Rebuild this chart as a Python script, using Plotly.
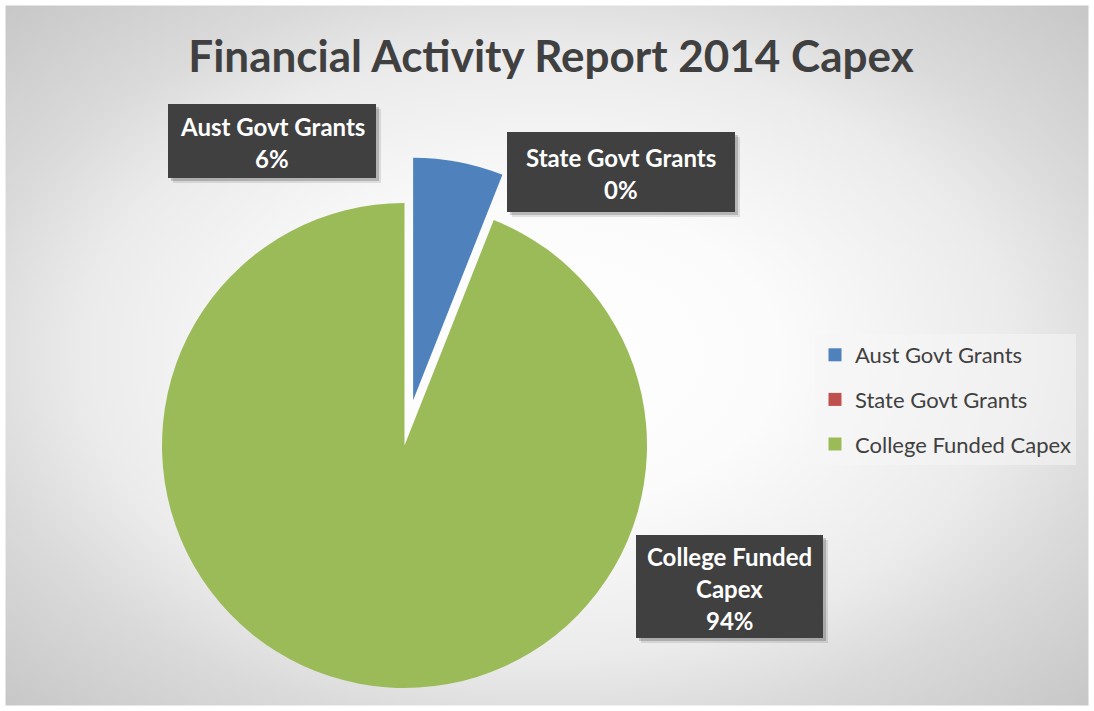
import math
import plotly.graph_objects as go

# ---------------- data ----------------
categories = ["Aust Govt Grants", "State Govt Grants", "College Funded Capex"]
values = [6, 0, 94]
colors = ["#4F81BD", "#C0504D", "#9BBB59"]
title_text = "Financial Activity Report 2014 Capex"
label_lines = [["Aust Govt Grants"], ["State Govt Grants"], ["College Funded", "Capex"]]

# ---------------- layout constants (px) ----------------
W, H = 1094, 711
FONT = "Lato"
TXT = "#404040"
cx, cy, r = 404.5, 445.5, 242.5      # pie centre / radius
pull = 0.19
pull_index = 0
# label boxes: x0, y0, x1, y1 and first-line centre y
boxes = [(168, 104, 376, 178, 126), (507, 132, 735, 212, 157), (636, 535, 823, 638, 556)]
line_pitch = 32

total = sum(values)
pcts = [f"{round(v / total * 100)}%" for v in values]


def dom(px, py):
    return dict(x=[(px - r) / W, (px + r) / W], y=[(H - py - r) / H, (H - py + r) / H])


mid = (sum(values[:pull_index]) + values[pull_index] / 2) / total * 2 * math.pi
bx = cx + pull * r * math.sin(mid)
by = cy - pull * r * math.cos(mid)

transparent = "rgba(0,0,0,0)"
colA = [transparent if i == pull_index else c for i, c in enumerate(colors)]
colB = [c if i == pull_index else transparent for i, c in enumerate(colors)]

fig = go.Figure()

# background radial gradient (ellipse reaching the corners)
gx, gy = W / 2, H / 2
hw, hh = gx * 1.414, gy * 1.414
fig.add_trace(go.Scatter(
    x=[gx - hw, gx + hw, gx + hw, gx - hw, gx - hw],
    y=[gy - hh, gy - hh, gy + hh, gy + hh, gy - hh],
    mode="lines", line=dict(width=0), fill="toself",
    fillgradient=dict(type="radial",
                      colorscale=[[0, "#ffffff"], [0.3, "#fbfbfb"], [0.6, "#ebebeb"],
                                  [0.75, "#dadada"], [1, "#c6c6c6"]]),
    hoverinfo="skip", showlegend=False))

# legend entries
for cat, c in zip(categories, colors):
    fig.add_trace(go.Scatter(x=[None], y=[None], mode="markers", name=cat,
                             legendgroup=cat,
                             marker=dict(symbol="square", size=13, color=c)))

common = dict(labels=categories, values=values, sort=False, direction="clockwise",
              rotation=0, textinfo="none", showlegend=False,
              hovertemplate="%{label}: %{percent}<extra></extra>")
fig.add_trace(go.Pie(marker=dict(colors=colA, line=dict(width=0)), domain=dom(cx, cy), **common))
fig.add_trace(go.Pie(marker=dict(colors=colB, line=dict(width=0)), domain=dom(bx, by), **common))

shapes = [
    # white outer frame
    dict(type="rect", xref="x", yref="y", x0=0, x1=W, y0=0, y1=H,
         line=dict(color="white", width=11), fillcolor="rgba(0,0,0,0)", layer="above"),
]
annotations = []
for i, (x0, y0, x1, y1, ly) in enumerate(boxes):
    for off, a in [(5, 0.10), (3, 0.18)]:
        shapes.append(dict(type="rect", xref="x", yref="y", x0=x0 + off, x1=x1 + off,
                           y0=y0 + off, y1=y1 + off, fillcolor=f"rgba(0,0,0,{a})",
                           line=dict(width=0), layer="above"))
    shapes.append(dict(type="rect", xref="x", yref="y", x0=x0, x1=x1, y0=y0, y1=y1,
                       fillcolor="#404040", line=dict(width=0), layer="above"))
    lines = label_lines[i] + [pcts[i]]
    for k, t in enumerate(lines):
        annotations.append(dict(text=t, xref="x", yref="y", x=(x0 + x1) / 2, y=ly + k * line_pitch,
                                showarrow=False, xanchor="center", yanchor="middle",
                                font=dict(family=FONT, size=24, color="white", weight="bold")))

fig.update_layout(
    width=W, height=H,
    margin=dict(l=0, r=0, t=0, b=0),
    paper_bgcolor="white", plot_bgcolor="white",
    xaxis=dict(range=[0, W], visible=False, fixedrange=True),
    yaxis=dict(range=[H, 0], visible=False, fixedrange=True),
    title=dict(text=title_text, x=551 / W, xanchor="center", y=1 - 57 / H, yanchor="middle",
               font=dict(family=FONT, size=44, color=TXT, weight="bold")),
    legend=dict(x=815 / W, xanchor="left", y=1 - 334 / H, yanchor="top",
                bgcolor="rgba(245,245,245,0.55)", tracegroupgap=13,
                font=dict(family=FONT, size=22, color=TXT)),
    shapes=shapes, annotations=annotations,
)

fig.write_html("out.html", config={"displayModeBar": False},
               post_script="document.body.style.margin='0px';")
